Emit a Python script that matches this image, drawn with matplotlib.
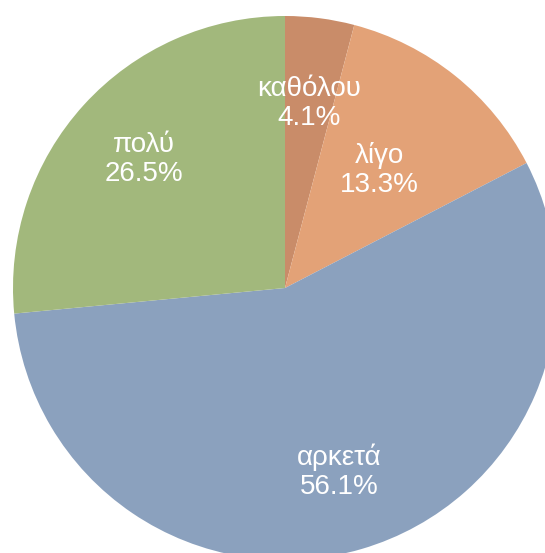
import numpy as np
import matplotlib.pyplot as plt

plt.rcParams['font.family'] = ['Liberation Sans', 'DejaVu Sans']

labels = ['καθόλου', 'λίγο', 'αρκετά', 'πολύ']
shares = [4.1, 13.3, 56.1, 26.5]
colors = ['#c98c69', '#e3a277', '#8ba1be', '#a2b87c']
label_r = [0.685, 0.555, 0.705, 0.70]

W, H = 545, 553
cx, cy, R = 285, 288, 272  # pie centre and radius in pixels

fig = plt.figure(figsize=(W / 100, H / 100), dpi=100)
ax = fig.add_axes([0, 0, 1, 1])

wedges, _ = ax.pie(shares, colors=colors, startangle=90, counterclock=False,
                   wedgeprops=dict(linewidth=0))

for w, lab, val, r in zip(wedges, labels, shares, label_r):
    mid = np.deg2rad((w.theta1 + w.theta2) / 2)
    ax.text(r * np.cos(mid), r * np.sin(mid), f'{lab}\n{val:.1f}%',
            ha='center', va='center', color='white', fontsize=20,
            linespacing=1.15)

ax.set_xlim(-cx / R, (W - cx) / R)
ax.set_ylim(-(H - cy) / R, cy / R)
ax.set_aspect('auto')
ax.axis('off')

fig.savefig('out.png', dpi=100)
